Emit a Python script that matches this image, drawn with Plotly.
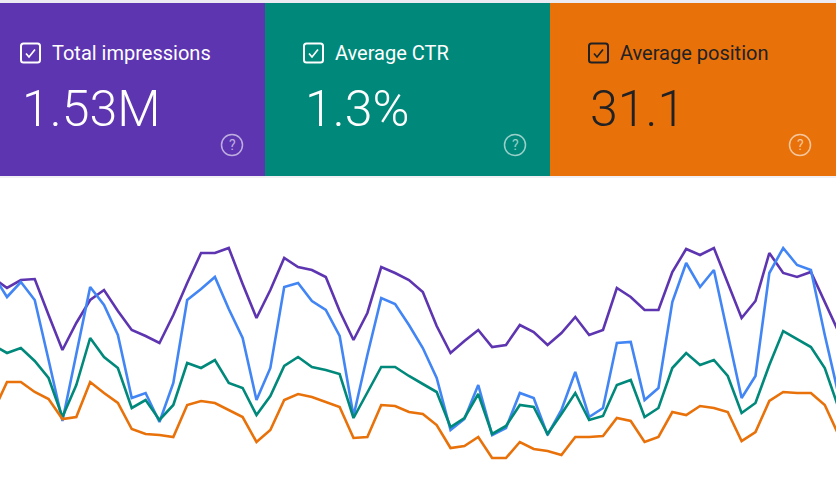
import plotly.graph_objects as go

# ---------------- data ----------------
days = list(range(62))

impressions = [20600, 19600, 20400, 20500, 16900, 13400, 16100, 18400, 19400, 17300,
               15400, 14800, 14100, 16900, 20100, 23100, 23100, 23600, 20000, 16600,
               19400, 22600, 21700, 21400, 20700, 17300, 14400, 17100, 21700, 21100,
               20400, 19200, 15800, 13100, 14300, 15400, 13700, 13900, 15900, 15200,
               13900, 15100, 16700, 14900, 15400, 19600, 18700, 17400, 17400, 21200,
               23500, 22900, 23600, 20100, 16600, 18300, 23100, 21100, 20700, 21200,
               18200, 15200]

clicks = [209, 187, 202, 184, 124, 63, 130, 197, 179, 149,
          86, 91, 62, 101, 184, 195, 207, 175, 146, 84,
          116, 197, 201, 183, 174, 148, 68, 129, 186, 180,
          159, 136, 106, 54, 65, 99, 49, 56, 91, 86,
          49, 74, 112, 67, 76, 141, 142, 84, 96, 182,
          221, 197, 214, 150, 86, 108, 211, 236, 219, 214,
          149, 89]

ctr = [1.39, 1.31, 1.36, 1.23, 1.06, 0.67, 0.99, 1.46, 1.27, 1.16,
       0.76, 0.84, 0.64, 0.79, 1.21, 1.16, 1.24, 1.01, 0.96, 0.69,
       0.88, 1.18, 1.27, 1.17, 1.14, 1.10, 0.66, 0.92, 1.17, 1.17,
       1.08, 1.00, 0.92, 0.57, 0.66, 0.90, 0.50, 0.58, 0.79, 0.77,
       0.50, 0.70, 0.91, 0.64, 0.68, 0.99, 1.04, 0.67, 0.76, 1.16,
       1.31, 1.19, 1.24, 1.08, 0.71, 0.81, 1.19, 1.53, 1.45, 1.37,
       1.16, 0.76]

position = [31.2, 28.2, 28.2, 29.2, 29.9, 31.9, 31.7, 28.2, 29.3, 30.3,
            32.9, 33.4, 33.5, 33.7, 30.5, 30.1, 30.3, 31.0, 31.7, 34.2,
            33.0, 30.0, 29.4, 29.7, 30.2, 30.7, 33.8, 33.7, 30.5, 30.6,
            31.2, 31.4, 32.5, 34.8, 34.6, 33.7, 35.8, 35.8, 34.2, 34.9,
            35.1, 35.5, 33.7, 33.7, 33.6, 31.8, 32.1, 34.2, 33.7, 31.2,
            31.5, 30.6, 30.8, 31.2, 34.1, 33.2, 30.1, 29.2, 29.3, 29.3,
            30.5, 33.5]

card_titles = ["Total impressions", "Average CTR", "Average position"]
card_values = ["1.53M", "1.3%", "31.1"]

# ---------------- styling ----------------
W, H = 836, 484
C_IMP, C_CLK, C_CTR, C_POS = "#5e35b1", "#4285f4", "#00897b", "#e8710a"
card_colors = [C_IMP, C_CTR, C_POS]
card_text = ["#ffffff", "#ffffff", "#202124"]
card_icon = "rgba(255,255,255,0.6)"
card_left = [0, 265, 550]
card_right = [265, 550, 836]
content_x = [20, 303, 588]
icon_x = [232, 515, 800]
FONT = "Roboto, Arial, sans-serif"
LW = 2.6


def px(x):
    return x / W


def py(y):
    return 1 - y / H


fig = go.Figure()
fig.add_trace(go.Scatter(x=days, y=position, yaxis="y4", mode="lines",
                         line=dict(color=C_POS, width=LW), hoverinfo="skip"))
fig.add_trace(go.Scatter(x=days, y=ctr, yaxis="y3", mode="lines",
                         line=dict(color=C_CTR, width=LW), hoverinfo="skip"))
fig.add_trace(go.Scatter(x=days, y=clicks, yaxis="y2", mode="lines",
                         line=dict(color=C_CLK, width=LW), hoverinfo="skip"))
fig.add_trace(go.Scatter(x=days, y=impressions, yaxis="y", mode="lines",
                         line=dict(color=C_IMP, width=LW), hoverinfo="skip"))

shapes = []
annotations = []
# thin borders
shapes.append(dict(type="rect", xref="paper", yref="paper", x0=0, x1=1,
                   y0=py(3), y1=1, fillcolor="#ecebf3", line=dict(width=0), layer="above"))
shapes.append(dict(type="rect", xref="paper", yref="paper", x0=0, x1=1,
                   y0=py(178), y1=py(175), fillcolor="#f1f0f5", line=dict(width=0), layer="above"))
for i in range(3):
    shapes.append(dict(type="rect", xref="paper", yref="paper",
                       x0=px(card_left[i]), x1=px(card_right[i]), y0=py(176), y1=py(3),
                       fillcolor=card_colors[i], line=dict(width=0), layer="above"))
    cx = content_x[i]
    tc = card_text[i]
    # checkbox (rounded square)
    x0, x1, y0, y1, r = cx + 1, cx + 20, 43.5, 62.5, 2.5
    path = (f"M {px(x0 + r)} {py(y0)} L {px(x1 - r)} {py(y0)} Q {px(x1)} {py(y0)} {px(x1)} {py(y0 + r)} "
            f"L {px(x1)} {py(y1 - r)} Q {px(x1)} {py(y1)} {px(x1 - r)} {py(y1)} "
            f"L {px(x0 + r)} {py(y1)} Q {px(x0)} {py(y1)} {px(x0)} {py(y1 - r)} "
            f"L {px(x0)} {py(y0 + r)} Q {px(x0)} {py(y0)} {px(x0 + r)} {py(y0)} Z")
    shapes.append(dict(type="path", xref="paper", yref="paper", path=path,
                       line=dict(color=tc, width=2), fillcolor="rgba(0,0,0,0)", layer="above"))
    shapes.append(dict(type="path", xref="paper", yref="paper",
                       path=f"M {px(cx + 6)} {py(53.5)} L {px(cx + 9)} {py(57)} L {px(cx + 15)} {py(49.5)}",
                       line=dict(color=tc, width=1.7), layer="above"))
    # help icon
    ix = icon_x[i]
    shapes.append(dict(type="circle", xref="paper", yref="paper",
                       x0=px(ix - 10.5), x1=px(ix + 10.5), y0=py(155.5), y1=py(134.5),
                       line=dict(color=card_icon, width=1.5), layer="above"))
    annotations.append(dict(x=px(ix), y=py(145), xref="paper", yref="paper",
                            text="?", showarrow=False, xanchor="center", yanchor="middle",
                            font=dict(family=FONT, size=14, color=card_icon)))
    annotations.append(dict(x=px(cx + 30), y=py(53), xref="paper", yref="paper",
                            text=card_titles[i], showarrow=False, xanchor="left", yanchor="middle",
                            font=dict(family=FONT, size=20, color=tc)))
    annotations.append(dict(x=px(cx), y=py(109), xref="paper", yref="paper",
                            text=card_values[i], showarrow=False, xanchor="left", yanchor="middle",
                            font=dict(family=FONT, size=50, color=tc, weight=300)))

axis_common = dict(visible=False, showgrid=False, zeroline=False, domain=[0, 1], fixedrange=True)
fig.update_layout(
    width=W, height=H,
    margin=dict(l=0, r=0, t=0, b=0),
    paper_bgcolor="#ffffff", plot_bgcolor="#ffffff",
    showlegend=False,
    xaxis=dict(visible=False, range=[0.495, 60.81], showgrid=False, zeroline=False),
    yaxis=dict(range=[0, 48400], **axis_common),
    yaxis2=dict(range=[0, 484], overlaying="y", **axis_common),
    yaxis3=dict(range=[0, 4.84], overlaying="y", **axis_common),
    yaxis4=dict(range=[38.4, -10], overlaying="y", **axis_common),
    shapes=shapes,
    annotations=annotations,
)

fig.write_html("out.html")
